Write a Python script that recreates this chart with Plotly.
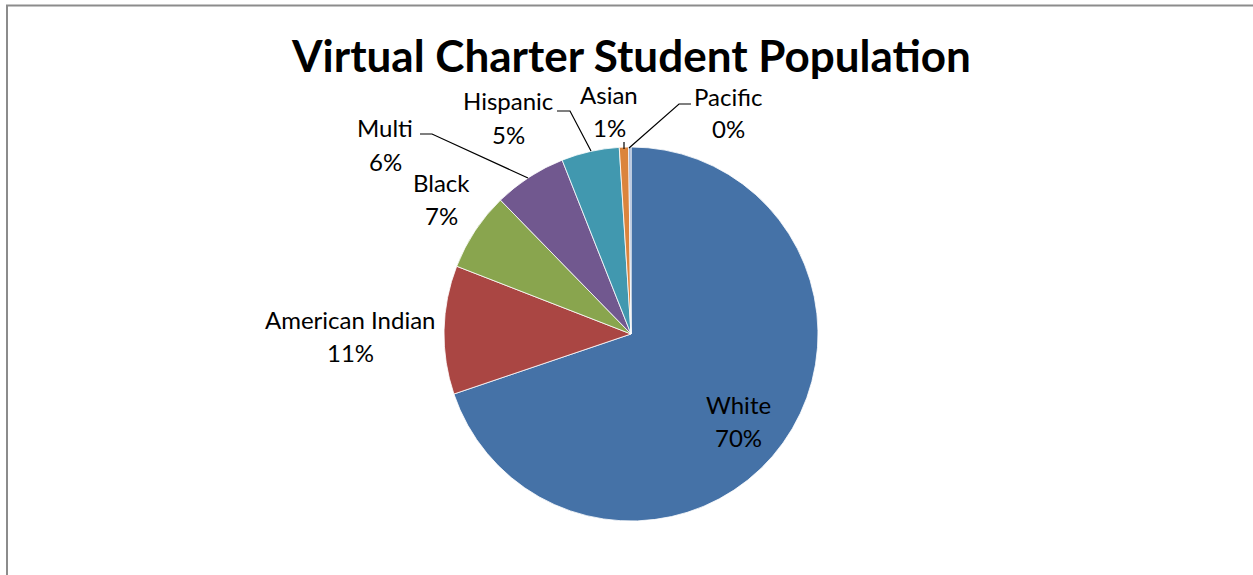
import plotly.graph_objects as go

# values (percent of students)
groups = ["White", "American Indian", "Black", "Multi", "Hispanic", "Asian", "Pacific"]
shares = [69.8, 11.1, 6.8, 6.3, 5.0, 0.8, 0.2]
colors = ["#4572A7", "#AA4643", "#89A54E", "#71588F", "#4198AF", "#DB843D", "#93A9CF"]

W, H = 1253, 575


def px(x, y):
    """pixel position -> paper coords (margins are zero)"""
    return x / W, 1 - y / H


# label anchor (pixel centre of the two-line label)
label_pos = {
    "White": (738, 421),
    "American Indian": (350, 336),
    "Black": (441, 199),
    "Multi": (385, 145),
    "Hispanic": (508, 118),
    "Asian": (609, 112),
    "Pacific": (728, 113),
}

# leader lines for the small outside labels
leaders = {
    "Multi": [(420, 134), (432, 134), (528, 178)],
    "Hispanic": [(557, 111), (570, 111), (591, 151)],
    "Asian": [(624, 142), (624, 149)],
    "Pacific": [(691, 104), (679, 104), (629, 148)],
}

cx, cy, r = 631, 334, 187

fig = go.Figure(go.Pie(
    labels=groups,
    values=shares,
    sort=False,
    direction="clockwise",
    rotation=0,
    textinfo="none",
    marker=dict(colors=colors, line=dict(color="white", width=0.8)),
    domain=dict(x=[(cx - r) / W, (cx + r) / W], y=[1 - (cy + r) / H, 1 - (cy - r) / H]),
    showlegend=False,
    hovertemplate="<b>%{label}</b><br>%{percent}<extra></extra>",
))

font = "Lato, 'Open Sans', sans-serif"
annotations = []
for g, v in zip(groups, shares):
    x, y = label_pos[g]
    for text, dy in [(g, -17), (f"{round(v)}%", 16)]:
        ax, ay = px(x, y + dy)
        annotations.append(dict(
            x=ax, y=ay, xref="paper", yref="paper", text=text, showarrow=False,
            xanchor="center", yanchor="middle",
            font=dict(family=font, size=24, color="black"),
        ))

annotations.append(dict(
    x=px(631, 55)[0], y=px(631, 55)[1], xref="paper", yref="paper",
    text="<b>Virtual Charter Student Population</b>", showarrow=False,
    xanchor="center", yanchor="middle",
    font=dict(family=font, size=44, color="black"),
))

shapes = []
for pts in leaders.values():
    path = "M " + " L ".join(f"{px(x, y)[0]},{px(x, y)[1]}" for x, y in pts)
    shapes.append(dict(type="path", xref="paper", yref="paper", path=path,
                       line=dict(color="black", width=1.2)))

# chart frame (runs off the right and bottom edges)
shapes.append(dict(type="rect", xref="paper", yref="paper",
                   x0=px(7, 0)[0], y0=-0.05, x1=1.05, y1=px(0, 5.5)[1],
                   line=dict(color="#8c8c8c", width=2)))

fig.update_layout(
    width=W,
    height=H,
    margin=dict(l=0, r=0, t=0, b=0),
    paper_bgcolor="white",
    annotations=annotations,
    shapes=shapes,
)

# drop the default 8px page margin so the figure sits at the window origin
fig.write_html("out.html", config={"displayModeBar": False},
               post_script="document.body.style.margin = '0';")
